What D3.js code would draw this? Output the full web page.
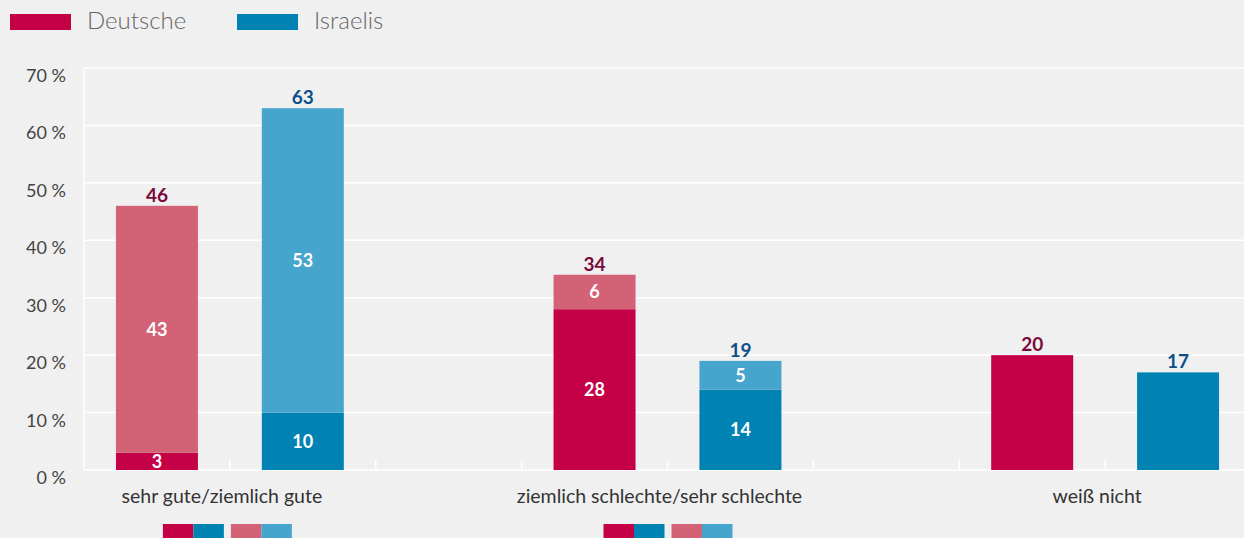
<!DOCTYPE html>
<html>
<head>
<meta charset="utf-8">
<script src="https://cdn.jsdelivr.net/npm/d3@7"></script>
<style>
  body { margin: 0; background: #f0f0f0; }
  svg { display: block; font-family: Lato, "Open Sans", sans-serif; }
</style>
</head>
<body>
<svg id="chart" width="1244" height="538"></svg>
<script>
// categories and values (percent)
const categories = ["sehr gute/ziemlich gute", "ziemlich schlechte/sehr schlechte", "weiß nicht"];
const deutscheDark = [3, 28, 20];
const deutscheLight = [43, 6, 0];
const israelisDark = [10, 14, 17];
const israelisLight = [53, 5, 0];
const yTicks = [0, 10, 20, 30, 40, 50, 60, 70];
const seriesNames = ["Deutsche", "Israelis"];

const colors = {
  dDark: "#c40046", dLight: "#d46277",
  iDark: "#0083b3", iLight: "#45a5cd",
  dText: "#7a0a3a", iText: "#0d4f8a"
};

const svg = d3.select("#chart");
const plotLeft = 84, plotRight = 1251, plotTop = 68, plotBottom = 470;

// 8 slots: bar, bar, gap per group
const slots = d3.range(8);
const x = d3.scaleBand().domain(slots).range([plotLeft, plotRight]).padding(0);
const y = d3.scaleLinear().domain([0, 70]).range([plotBottom, plotTop]);
const barW = x.bandwidth() * 0.562;
const barOff = (x.bandwidth() - barW) / 2;

// grid
svg.append("g").selectAll("line").data(yTicks).join("line")
  .attr("x1", plotLeft).attr("x2", 1244)
  .attr("y1", d => y(d)).attr("y2", d => y(d))
  .attr("stroke", "#fff").attr("stroke-width", 1.5);

svg.append("line").attr("x1", plotLeft).attr("x2", plotLeft)
  .attr("y1", plotTop).attr("y2", plotBottom).attr("stroke", "#fff").attr("stroke-width", 1.5);

// small ticks at slot boundaries
svg.append("g").selectAll("line").data(slots.slice(1)).join("line")
  .attr("x1", d => x(d)).attr("x2", d => x(d))
  .attr("y1", plotBottom - 10).attr("y2", plotBottom)
  .attr("stroke", "#fff").attr("stroke-width", 1.5);

// y labels
svg.append("g").selectAll("text").data(yTicks).join("text")
  .attr("x", 66).attr("y", d => y(d) + 14)
  .attr("text-anchor", "end")
  .attr("font-size", 18).attr("fill", "#444")
  .text(d => d + " %");

// bar data
const bars = [];
categories.forEach((c, i) => {
  bars.push({ slot: i * 3, dark: deutscheDark[i], light: deutscheLight[i], cDark: colors.dDark, cLight: colors.dLight, cText: colors.dText });
  bars.push({ slot: i * 3 + 1, dark: israelisDark[i], light: israelisLight[i], cDark: colors.iDark, cLight: colors.iLight, cText: colors.iText });
});

const g = svg.append("g");
bars.forEach(b => {
  const bx = x(b.slot) + barOff;
  const total = b.dark + b.light;
  g.append("rect").attr("x", bx).attr("width", barW)
    .attr("y", y(b.dark)).attr("height", y(0) - y(b.dark)).attr("fill", b.cDark);
  if (b.light > 0) {
    g.append("rect").attr("x", bx).attr("width", barW)
      .attr("y", y(total)).attr("height", y(b.dark) - y(total)).attr("fill", b.cLight);
    g.append("text").attr("x", bx + barW / 2).attr("y", y(b.dark / 2) + 6.5)
      .attr("text-anchor", "middle").attr("font-size", 18).attr("font-weight", "bold")
      .attr("fill", "#fff").text(b.dark);
    g.append("text").attr("x", bx + barW / 2).attr("y", y(b.dark + b.light / 2) + 6.5)
      .attr("text-anchor", "middle").attr("font-size", 18).attr("font-weight", "bold")
      .attr("fill", "#fff").text(b.light);
  }
  g.append("text").attr("x", bx + barW / 2).attr("y", y(total) - 4)
    .attr("text-anchor", "middle").attr("font-size", 19).attr("font-weight", "bold")
    .attr("fill", b.cText).text(total);
});

// category labels
svg.append("g").selectAll("text").data(categories).join("text")
  .attr("x", (d, i) => x(i * 3 + 1) - 8)
  .attr("y", 503)
  .attr("text-anchor", "middle").attr("font-size", 19.5).attr("fill", "#333")
  .text(d => d);

// small swatches under stacked groups
[0, 1].forEach(i => {
  let sx = x(i * 3 + 1) - 67 + i * 3;
  [[colors.dDark, colors.iDark], [colors.dLight, colors.iLight]].forEach(pair => {
    pair.forEach((c, j) => {
      svg.append("rect").attr("x", sx + j * 30.5).attr("y", 524)
        .attr("width", 30.5).attr("height", 16).attr("fill", c);
    });
    sx += 68;
  });
});

// legend
const legend = svg.append("g");
seriesNames.forEach((n, i) => {
  const lx = 10 + i * 227;
  legend.append("rect").attr("x", lx).attr("y", 14).attr("width", 61).attr("height", 16)
    .attr("fill", i === 0 ? colors.dDark : colors.iDark);
  legend.append("text").attr("x", lx + 77).attr("y", 29)
    .attr("font-size", 24).attr("font-weight", 300).attr("fill", "#666").text(n);
});
</script>
</body>
</html>
